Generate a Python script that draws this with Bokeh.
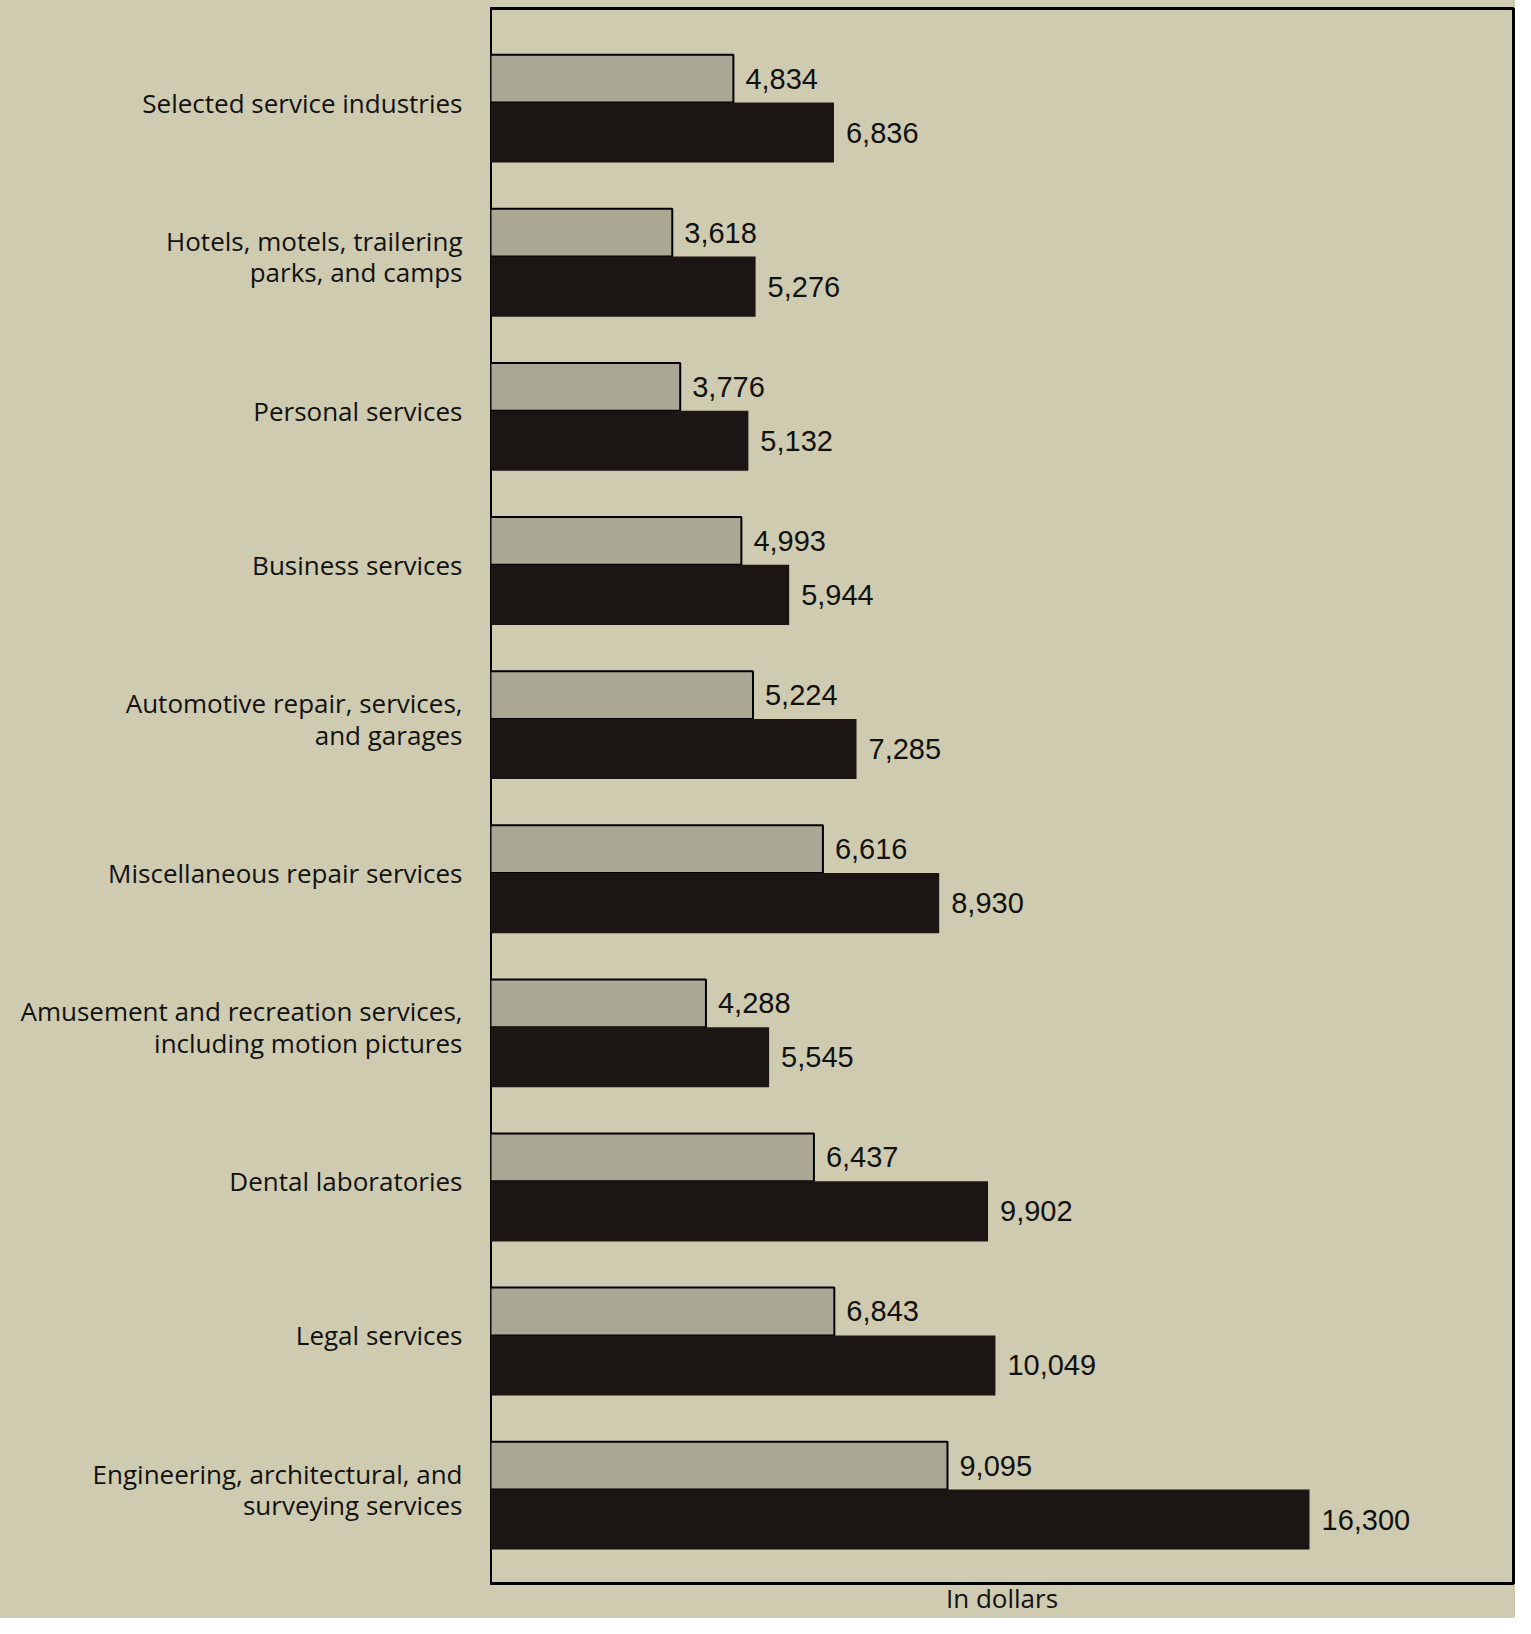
from bokeh.plotting import figure
from bokeh.layouts import row
from bokeh.models import FactorRange, Range1d, ColumnDataSource, FixedTicker
from bokeh.transform import dodge
from bokeh.core.properties import value
from bokeh.embed import file_html
from bokeh.resources import INLINE

categories = [
    "Selected service industries",
    "Hotels, motels, trailering parks, and camps",
    "Personal services",
    "Business services",
    "Automotive repair, services, and garages",
    "Miscellaneous repair services",
    "Amusement and recreation services, including motion pictures",
    "Dental laboratories",
    "Legal services",
    "Engineering, architectural, and surveying services",
]
label_lines = [
    "Selected service industries",
    "Hotels, motels, trailering\nparks, and camps",
    "Personal services",
    "Business services",
    "Automotive repair, services,\nand garages",
    "Miscellaneous repair services",
    "Amusement and recreation services,\nincluding motion pictures",
    "Dental laboratories",
    "Legal services",
    "Engineering, architectural, and\nsurveying services",
]
series_light = [4834, 3618, 3776, 4993, 5224, 6616, 4288, 6437, 6843, 9095]
series_dark = [6836, 5276, 5132, 5944, 7285, 8930, 5545, 9902, 10049, 16300]

BG = "#cfcbb0"
LIGHT = "#aaa794"
DARK = "#1b1613"
TXT = "#111111"

src = ColumnDataSource(dict(
    cat=categories,
    lab=label_lines,
    zero=[0] * len(categories),
    light=series_light,
    dark=series_dark,
    light_txt=[f"{v:,}" for v in series_light],
    dark_txt=[f"{v:,}" for v in series_dark],
))

H = 1618
LEFT_W = 490
yr = FactorRange(factors=list(reversed(categories)), range_padding=0.11,
                 range_padding_units="absolute")


def style_bottom_axis(fig, alpha):
    xa = fig.xaxis[0]
    xa.ticker = FixedTicker(ticks=[])
    xa.major_tick_line_color = None
    xa.minor_tick_line_color = None
    xa.axis_line_color = None
    xa.major_label_text_font_size = "0px"
    xa.major_label_standoff = 0
    xa.axis_label = "In dollars"
    xa.axis_label_standoff = -4
    xa.axis_label_text_font = "Open Sans"
    xa.axis_label_text_font_style = "normal"
    xa.axis_label_text_font_size = "26px"
    xa.axis_label_text_color = TXT
    xa.axis_label_text_alpha = alpha


# left panel with category labels
lp = figure(width=LEFT_W, height=H, y_range=yr, x_range=Range1d(-1, 0),
            output_backend="svg", toolbar_location=None,
            min_border_left=0, min_border_right=0, min_border_top=8, min_border_bottom=0,
            styles={"background-color": BG})
lp.background_fill_color = BG
lp.border_fill_color = BG
lp.outline_line_color = None
lp.grid.visible = False
lp.yaxis[0].visible = False
style_bottom_axis(lp, 0.0)
lp.text(x="zero", y="cat", text="lab", source=src, x_offset=-28,
        text_align="right", text_baseline="middle",
        text_font=value("Open Sans"), text_font_size="26px", text_color=TXT,
        text_line_height=0.88)

# main chart
p = figure(
    width=1515 - LEFT_W, height=H, y_range=yr,
    x_range=Range1d(0, 20360),
    output_backend="svg", toolbar_location=None,
    min_border_left=0, min_border_right=2, min_border_top=8, min_border_bottom=0,
    styles={"background-color": BG},
)
p.background_fill_color = BG
p.border_fill_color = BG
p.outline_line_color = "black"
p.outline_line_width = 3
p.grid.visible = False
p.yaxis[0].visible = False
style_bottom_axis(p, 1.0)

LH = 0.31
DH = 0.39
p.hbar(y=dodge("cat", LH / 2, range=yr), left=0, right="light", height=LH,
       source=src, fill_color=LIGHT, line_color="black", line_width=2)
p.hbar(y=dodge("cat", -DH / 2, range=yr), left=0, right="dark", height=DH,
       source=src, fill_color=DARK, line_color=None)

p.text(x="light", y=dodge("cat", LH / 2, range=yr), text="light_txt", source=src,
       x_offset=12, text_baseline="middle", text_align="left",
       text_font=value("Liberation Sans"), text_font_size="29px", text_color=TXT)
p.text(x="dark", y=dodge("cat", -DH / 2, range=yr), text="dark_txt", source=src,
       x_offset=12, text_baseline="middle", text_align="left",
       text_font=value("Liberation Sans"), text_font_size="29px", text_color=TXT)

layout = row(lp, p, styles={"background-color": BG})
open("out.html", "w").write(file_html(layout, INLINE))
